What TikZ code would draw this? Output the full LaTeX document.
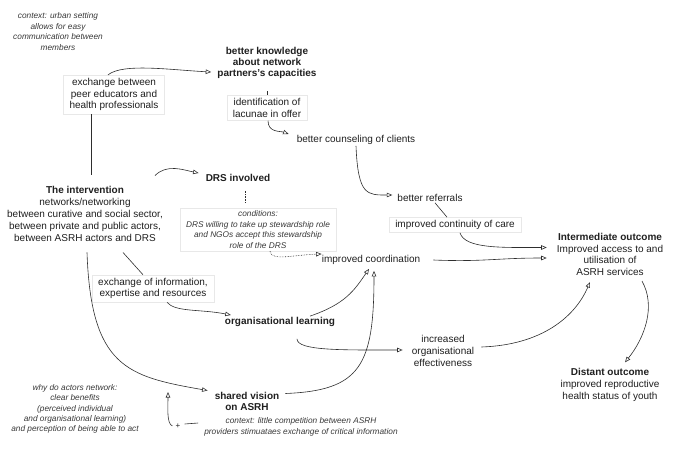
\documentclass[tikz,border=0pt]{standalone}
\usepackage{fontspec}
\setmainfont{Liberation Sans}
\usepackage{tikz}
\usetikzlibrary{arrows.meta,calc}

\begin{document}
\begin{tikzpicture}[x=1pt, y=-1pt,
    every node/.style={align=center, text=black!88, inner sep=1pt, font=\fontsize{10}{11.8}\selectfont},
    keynode/.style={font=\fontsize{10}{11.2}\selectfont\bfseries},
    labelbox/.style={draw=black!9, fill=white, inner xsep=6pt, inner ysep=3pt},
    remark/.style={text=black!78, font=\fontsize{8.3}{10.4}\selectfont\itshape},
    link/.style={draw=black!82, line width=0.6pt},
    causes/.style={link, -{Triangle[open, length=5.5pt, width=4.5pt]}},
    condition/.style={causes, densely dotted},
]

\useasboundingbox (0,0) rectangle (685,453);

% Context notes
\node[remark] (ctxurban) at (58,31.5) {context: urban setting\\allows for easy\\communication between\\members};
\node[remark] (whynote) at (75,409) {why do actors network:\\clear benefits\\(perceived individual\\and organisational learning)\\and perception of being able to act};
\node[remark] (compnote) at (301,427) {context: little competition between ASRH\\providers stimuataes exchange of critical information};
\node[font=\fontsize{8}{9}\selectfont] (plus) at (178,426) {+};
\coordinate (moderate) at (168,392);

% The intervention
\node (interv) at (85,214) {\textbf{The intervention}\\networks/networking\\between curative and social sector,\\between private and public actors,\\between ASRH actors and DRS};

% Mechanisms and labels on the links
\node[labelbox] (peerex) at (114,94.5) {exchange between\\peer educators and\\health professionals};
\node[keynode] (knowledge) at (267,63) {better knowledge\\about network\\partners's capacities};
\node[labelbox] (lacunae) at (267,108) {identification of\\lacunae in offer};
\node (counsel) at (356,140) {better counseling of clients};
\node[keynode] (drs) at (238,178) {DRS involved};
\node[labelbox, remark] (cond) at (258,229.5) {conditions:\\DRS willing to take up stewardship role\\and NGOs accept this stewardship\\role of the DRS};
\node (referrals) at (430,198) {better referrals};
\node[labelbox] (continuity) at (455,225) {improved continuity of care};
\node (coord) at (371,260) {improved coordination};
\node[labelbox] (infoex) at (153,288.5) {exchange of information,\\expertise and resources};
\node[keynode] (orglearn) at (280,322) {organisational learning};
\node (effect) at (443,351) {increased\\organisational\\effectiveness};
\node[keynode] (vision) at (247,401.5) {shared vision\\on ASRH};

% Outcomes
\node (interm) at (610,254.5) {\textbf{Intermediate outcome}\\Improved access to and\\utilisation of\\ASRH services};
\node (distant) at (610,385) {\textbf{Distant outcome}\\improved reproductive\\health status of youth};

% Upper chain: knowledge of partners
\draw[link] ([xshift=6pt,yshift=11pt]interv.north) -- ([xshift=-23pt]peerex.south);
\draw[causes] ([xshift=-6pt]peerex.north) .. controls +(15,-12) and +(-40,-2) .. ([xshift=-5pt,yshift=-9pt]knowledge.west);
\draw[link, shorten <=11pt] (knowledge.south) -- (lacunae.north);
\draw[causes] ([xshift=1pt]lacunae.south) .. controls +(0,12) and +(-8,-3) .. ([xshift=-7pt,yshift=6pt]counsel.west);
\draw[causes] (counsel.south) .. controls +(2,50) and +(-25,0) .. ([xshift=-4pt,yshift=3pt]referrals.west);
\draw[link] ([xshift=5pt]referrals.south) -- ([xshift=-8pt]continuity.north);
\draw[causes] ([xshift=5pt]continuity.south) .. controls +(5,16) and +(-45,0) .. ([xshift=-9pt,yshift=7pt]interm.west);

% Stewardship of the DRS
\draw[causes] ([xshift=-9pt,yshift=10pt]interv.north east) .. controls +(12,-12) and +(-15,-3) .. ([xshift=-6pt,yshift=5pt]drs.west);
\draw[link, densely dotted, shorten <=8pt, shorten >=4pt] ([xshift=7pt]drs.south) -- ([xshift=-13pt]cond.north);
\draw[condition] ([xshift=12pt]cond.south) .. controls +(2,10) and +(-30,1) .. ([xshift=1pt,yshift=6pt]coord.west);
\draw[causes] ([xshift=12pt]coord.east) .. controls +(50,2) and +(-50,0) .. ([xshift=-9pt,yshift=-3.5pt]interm.west);

% Exchange and organisational learning
\draw[link] ([xshift=38pt,yshift=-10pt]interv.south) -- ([xshift=-10pt]infoex.north);
\draw[causes] ([xshift=14pt]infoex.south) .. controls +(8,10) and +(-30,-6) .. ([xshift=7pt,yshift=7pt]orglearn.west);
\draw[causes] ([xshift=30pt]orglearn.north) .. controls +(35,-12) and +(-15,22) .. ([xshift=-2pt,yshift=-3pt]coord.south);
\draw[causes] ([xshift=17pt,yshift=-11pt]orglearn.south) .. controls +(0,12) and +(-60,0) .. ([xshift=-8pt,yshift=1pt]effect.west);
\draw[causes] ([xshift=6pt,yshift=4pt]effect.east) .. controls +(60,-2) and +(-15,35) .. ([xshift=-20pt,yshift=-5pt]interm.south);
\draw[causes] ([xshift=32pt,yshift=-4pt]interm.south) .. controls +(14,25) and +(20,-25) .. ([xshift=15pt,yshift=5pt]distant.north);

% Shared vision
\draw[causes] ([xshift=2pt,yshift=-10pt]interv.south) .. controls +(4,115) and +(-80,-14) .. ([xshift=-6pt,yshift=11pt]vision.west);
\draw[causes] ([xshift=5pt,yshift=8pt]vision.east) .. controls +(75,-3) and +(0,95) .. ([xshift=3pt,yshift=-5pt]coord.south);
\draw[link] ([xshift=-5pt,yshift=4pt]compnote.west) -- ([xshift=3pt,yshift=2pt]plus.east);
\draw[causes] ([xshift=-2pt]plus.west) .. controls +(-6,-2) and +(0,15) .. (moderate);

\end{tikzpicture}
\end{document}
